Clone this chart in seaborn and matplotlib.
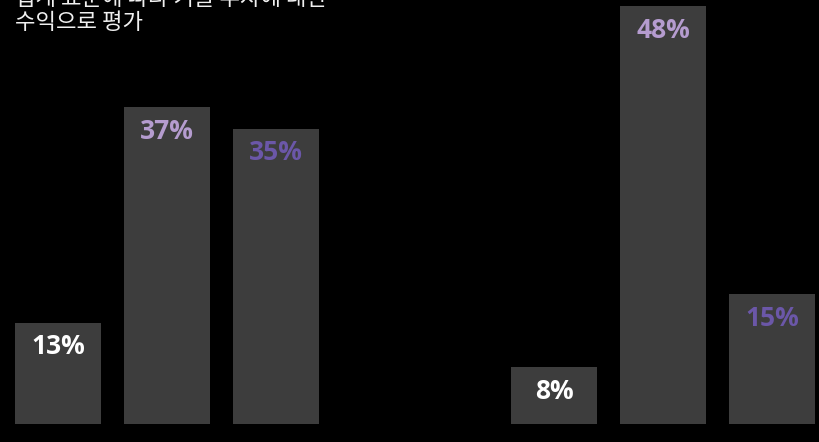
import matplotlib
matplotlib.use("Agg")
import matplotlib.pyplot as plt
import seaborn as sns
import pandas as pd

# data (bar heights; labels as printed)
groups = ["그룹 1", "그룹 2"]
categories = ["A", "B", "C"]
values_g1 = [12.9, 36.8, 34.4]
values_g2 = [8.0, 48.0, 16.1]
labels_g1 = ["13%", "37%", "35%"]
labels_g2 = ["8%", "48%", "15%"]
label_colors = ["#ffffff", "#b59ccf", "#6b57a8"]
title_lines = ["업계 표준에 따라 기술 투자에 대한", "수익으로 평가"]

sns.set_theme(style="dark")
plt.rcParams["font.family"] = ["Noto Sans CJK KR", "DejaVu Sans"]

W, H = 819, 442
fig = plt.figure(figsize=(W / 100, H / 100), dpi=100, facecolor="black")

unit = 109.0
ymin, ymax = 1.7, 48.68
bottom_px = 424

def make_ax(left_px, xmax):
    width_px = (xmax + 0.5) * unit
    ax = fig.add_axes([left_px / W, (H - bottom_px) / H, width_px / W, bottom_px / H])
    ax.set_facecolor("black")
    for s in ax.spines.values():
        s.set_visible(False)
    return ax

for gi, (vals, labs, left_px, xmax) in enumerate([
    (values_g1, labels_g1, 3.5, 2.5),
    (values_g2, labels_g2, 499.5, 2.43),
]):
    ax = make_ax(left_px, xmax)
    df = pd.DataFrame({"cat": categories, "val": vals})
    sns.barplot(data=df, x="cat", y="val", ax=ax, color="#3d3d3d",
                saturation=1, width=86 / unit, edgecolor="none")
    ax.set_xlim(-0.5, xmax)
    ax.set_ylim(ymin, ymax)
    ax.set_xticks([])
    ax.set_yticks([])
    ax.set_xlabel("")
    ax.set_ylabel("")
    for i, (p, lab) in enumerate(zip(ax.patches, labs)):
        x = p.get_x() + p.get_width() / 2
        top = p.get_height()
        ax.annotate(lab, (x, top), xytext=(0, -24), textcoords="offset pixels",
                    ha="center", va="center", fontsize=19, fontweight="bold",
                    color=label_colors[i], family=["Open Sans", "DejaVu Sans"])

fig.text(15 / W, 1 - (-13) / H, "\n".join(title_lines), ha="left", va="top",
         fontsize=16, color="#f0f0f0", linespacing=1.08,
         family=["Noto Sans CJK KR", "DejaVu Sans"])

fig.savefig("out.png", dpi=100, facecolor="black")
